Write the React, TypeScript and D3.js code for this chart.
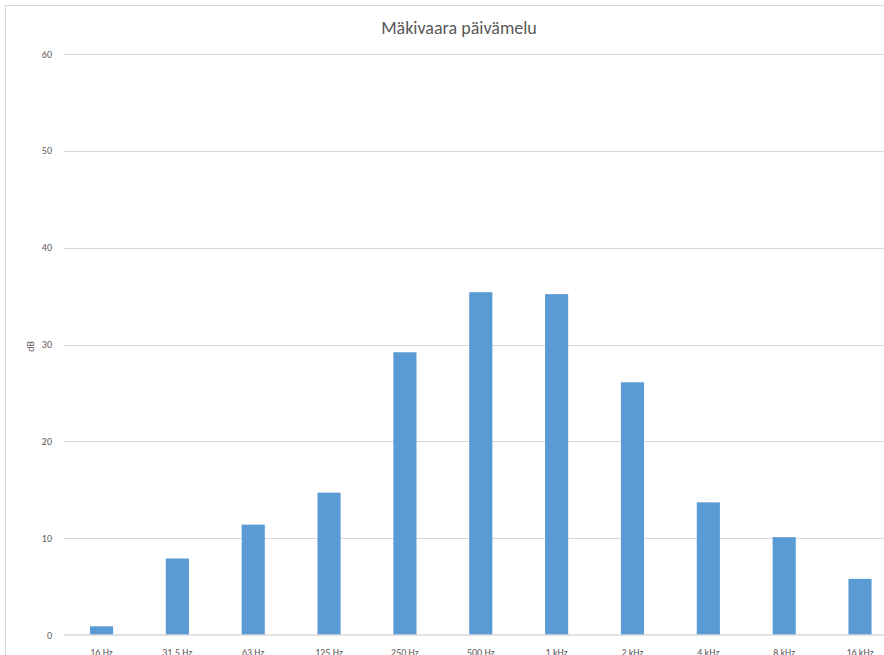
import React from "react";
import * as d3 from "d3";

const categories = ["16 Hz", "31.5 Hz", "63 Hz", "125 Hz", "250 Hz", "500 Hz", "1 kHz", "2 kHz", "4 kHz", "8 kHz", "16 kHz"];
const values = [0.9, 7.9, 11.4, 14.7, 29.2, 35.4, 35.2, 26.1, 13.7, 10.1, 5.8];
const yTicks = [0, 10, 20, 30, 40, 50, 60];
const title = "Mäkivaara päivämelu";
const yTitle = "dB";

const W = 884;
const H = 655;
const plotLeft = 63.6;
const plotRight = plotLeft + 11 * 75.85;
const plotTop = 54;
const plotBottom = 635;

export default function App() {
  const x = d3.scaleBand<string>().domain(categories).range([plotLeft, plotRight]).paddingInner(0.695).paddingOuter(0.3475);
  const y = d3.scaleLinear().domain([0, 60]).range([plotBottom, plotTop]);
  const font = "Carlito, Calibri, 'Open Sans', sans-serif";
  return (
    <svg width={W} height={H} style={{ position: "absolute", left: 0, top: 0 }} fontFamily={font}>
      <rect x={0} y={0} width={W} height={H} fill="#fff" />
      <rect x={5.5} y={5.5} width={W + 10} height={H + 10} fill="none" stroke="#d9d9d9" strokeWidth={1} />
      {yTicks.map((t) => (
        <g key={t}>
          {t !== 0 && <line x1={plotLeft} x2={W + 20} y1={Math.round(y(t)) + 0.5} y2={Math.round(y(t)) + 0.5} stroke="#d9d9d9" strokeWidth={1} />}
          <text x={52} y={y(t) + 3.5} textAnchor="end" fontSize={10} fill="#595959">{t}</text>
        </g>
      ))}
      {values.map((v, i) => (
        <rect key={categories[i]} x={x(categories[i])} y={y(v)} width={x.bandwidth()} height={y(0) - y(v)} fill="#5b9bd5" />
      ))}
      <line x1={plotLeft} x2={W + 20} y1={plotBottom} y2={plotBottom} stroke="#d9d9d9" strokeWidth={1.5} />
      {categories.map((c) => (
        <text key={c} x={(x(c) as number) + x.bandwidth() / 2} y={656} textAnchor="middle" fontSize={10} fill="#595959">{c}</text>
      ))}
      <text x={459} y={34} textAnchor="middle" fontSize={18} fill="#595959">{title}</text>
      <text transform={`translate(34,${(plotTop + plotBottom) / 2 + 2}) rotate(-90)`} textAnchor="middle" fontSize={10} fill="#595959">{yTitle}</text>
    </svg>
  );
}
